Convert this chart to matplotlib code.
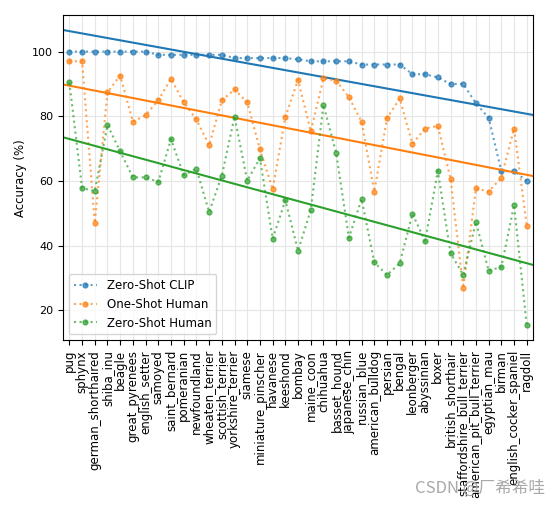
import numpy as np
import matplotlib
matplotlib.use('Agg')
import matplotlib.pyplot as plt

# 宠物类别（按 CLIP zero-shot 准确率排序）
breeds = ['pug', 'sphynx', 'german_shorthaired', 'shiba_inu', 'beagle', 'great_pyrenees',
          'english_setter', 'samoyed', 'saint_bernard', 'pomeranian', 'newfoundland',
          'wheaten_terrier', 'scottish_terrier', 'yorkshire_terrier', 'siamese',
          'miniature_pinscher', 'havanese', 'keeshond', 'bombay', 'maine_coon', 'chihuahua',
          'basset_hound', 'japanese_chin', 'russian_blue', 'american_bulldog', 'persian',
          'bengal', 'leonberger', 'abyssinian', 'boxer', 'british_shorthair',
          'staffordshire_bull_terrier', 'american_pit_bull_terrier', 'egyptian_mau',
          'birman', 'english_cocker_spaniel', 'ragdoll']

zero_shot_clip = [100, 100, 100, 100, 100, 100, 100, 99, 99, 99, 99, 99, 99, 98, 98,
                  98, 98, 98, 97.6, 97, 97, 97, 97, 96, 96, 96, 96, 93, 93, 92,
                  90, 90, 84, 79.5, 63, 63, 60]
one_shot_human = [97, 97, 47, 87.4, 92.6, 78.3, 80.3, 85, 91.6, 84.3, 79, 71, 84.9,
                  88.3, 84.3, 69.8, 57.4, 79.8, 91.3, 75.3, 91.7, 91, 85.9, 78.3, 56.7,
                  79.4, 85.5, 71.5, 76.2, 77, 60.7, 26.8, 57.7, 56.7, 61, 76.2, 46.1]
zero_shot_human = [90.5, 57.8, 56.8, 77.3, 69.1, 61.1, 61.1, 59.7, 72.9, 61.8, 63.7,
                   50.4, 61.6, 79.9, 60.1, 67, 42.1, 54, 38.4, 51, 83.5, 68.6, 42.4,
                   54.4, 34.8, 30.9, 34.5, 49.8, 41.4, 63.1, 37.7, 30.9, 47.3, 32.2,
                   33.4, 52.5, 15.3]

series = [('Zero-Shot CLIP', zero_shot_clip, 'tab:blue'),
          ('One-Shot Human', one_shot_human, 'tab:orange'),
          ('Zero-Shot Human', zero_shot_human, 'tab:green')]

plt.rcParams['font.size'] = 8.5

fig = plt.figure(figsize=(5.6, 5.07), dpi=100)
ax = fig.add_axes([0.1125, 0.329, 0.8395, 0.641])

x = np.arange(len(breeds))
xfit = np.array([-0.5, len(breeds) - 0.5])
for name, vals, c in series:
    ax.plot(x, vals, ':', marker='o', ms=3.5, color=c, alpha=0.7, label=name)
    k, b = np.polyfit(x, vals, 1)  # 线性拟合
    ax.plot(xfit, k * xfit + b, '-', color=c, lw=1.5)

ax.set_xlim(-0.5, len(breeds) - 0.5)
ax.set_xticks(x)
ax.set_xticklabels(breeds, rotation=90)
ax.set_yticks([20, 40, 60, 80, 100])
ax.tick_params(axis='y', labelsize=8)
ax.set_ylabel('Accuracy (%)')
ax.grid(True, color='#e6e6e6', lw=0.8)
ax.set_axisbelow(True)
ax.legend(loc='lower left')

fig.text(0.973, 0.02, 'CSDN @厂希希哇', ha='right', va='bottom', fontsize=12,
         color='#a8a8a8', family=['Noto Sans CJK SC', 'DejaVu Sans'])

fig.savefig('out.png', dpi=100)
